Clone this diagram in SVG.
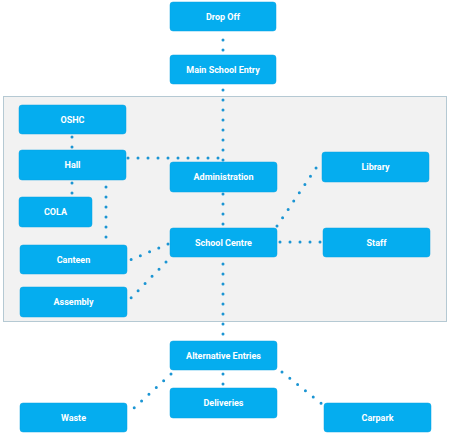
<svg xmlns="http://www.w3.org/2000/svg" width="450" height="437" viewBox="0 0 450 437">
<style>
.n{fill:#05adef;stroke:#0aa3e0;stroke-width:0.5}
.t{fill:#fff;font-family:Roboto,"Liberation Sans",sans-serif;font-weight:bold;font-size:9px;text-anchor:middle;dominant-baseline:central}
.c{fill:none;stroke:#1b95d3;stroke-width:3;stroke-linecap:round;stroke-dasharray:0 10}
</style>
<rect x="3.5" y="96.5" width="443" height="225" fill="#f2f2f2" stroke="#b5c9d3" stroke-width="1"/>
<g id="connectors">
<path class="c" d="M223 40V50.5"/>
<path class="c" d="M223 90V160.5"/>
<path class="c" d="M128 158H221"/>
<path class="c" d="M72 137V147.5"/>
<path class="c" d="M72 183V193.5"/>
<path class="c" d="M106 187V238"/>
<path class="c" d="M223 194V224.5"/>
<path class="c" d="M280 242H320.5"/>
<path class="c" d="M277 226L318 165"/>
<path class="c" d="M168 244L130 260"/>
<path class="c" d="M166 262L130 299"/>
<path class="c" d="M223 264V334.5"/>
<path class="c" d="M223 374V384.5"/>
<path class="c" d="M171 374L133 409"/>
<path class="c" d="M282 372L322 404"/>
</g>
<g id="drop-off"><rect class="n" x="170" y="2" width="106" height="29" rx="3"/><text class="t" x="223" y="16.5">Drop Off</text></g>
<g id="main-school-entry"><rect class="n" x="170" y="55" width="106" height="29" rx="3"/><text class="t" x="223" y="69.5">Main School Entry</text></g>
<g id="oshc"><rect class="n" x="19" y="105" width="107" height="29" rx="3"/><text class="t" x="72.5" y="119.5">OSHC</text></g>
<g id="hall"><rect class="n" x="19" y="150" width="107" height="30" rx="3"/><text class="t" x="72.5" y="165">Hall</text></g>
<g id="administration"><rect class="n" x="170" y="162" width="107" height="30" rx="3"/><text class="t" x="223.5" y="177">Administration</text></g>
<g id="cola"><rect class="n" x="19" y="197" width="73" height="30" rx="3"/><text class="t" x="55.5" y="212">COLA</text></g>
<g id="library"><rect class="n" x="322" y="152" width="107" height="30" rx="3"/><text class="t" x="375.5" y="166.5">Library</text></g>
<g id="school-centre"><rect class="n" x="170" y="228" width="107" height="29" rx="3"/><text class="t" x="223.5" y="242.5">School Centre</text></g>
<g id="staff"><rect class="n" x="323" y="228" width="107" height="29" rx="3"/><text class="t" x="376.5" y="242.5">Staff</text></g>
<g id="canteen"><rect class="n" x="20" y="245" width="107" height="29" rx="3"/><text class="t" x="73.5" y="259.5">Canteen</text></g>
<g id="assembly"><rect class="n" x="20" y="287" width="107" height="30" rx="3"/><text class="t" x="73.5" y="302">Assembly</text></g>
<g id="alternative-entries"><rect class="n" x="170" y="341" width="107" height="29" rx="3"/><text class="t" x="223.5" y="355.5">Alternative Entries</text></g>
<g id="deliveries"><rect class="n" x="170" y="388" width="107" height="30" rx="3"/><text class="t" x="223.5" y="402.5">Deliveries</text></g>
<g id="waste"><rect class="n" x="20" y="403" width="107" height="29" rx="3"/><text class="t" x="73.5" y="417.5">Waste</text></g>
<g id="carpark"><rect class="n" x="324" y="403" width="107" height="29" rx="3"/><text class="t" x="377.5" y="417.5">Carpark</text></g>
</svg>
